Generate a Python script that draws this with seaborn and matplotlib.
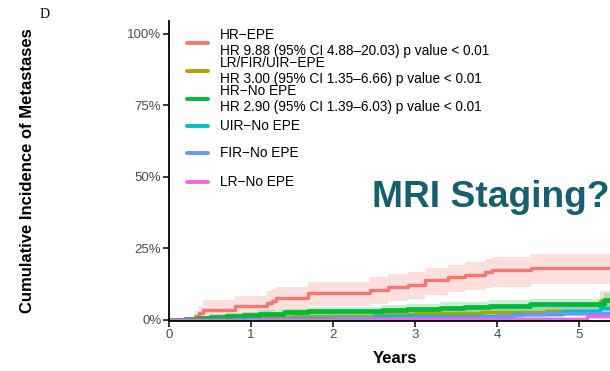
import numpy as np
import pandas as pd
import matplotlib
matplotlib.use("Agg")
import matplotlib.pyplot as plt
from matplotlib.lines import Line2D
from matplotlib.ticker import PercentFormatter
import seaborn as sns

# ---- data: cumulative incidence of metastases (%) by risk group ----
groups = ["HR\u2212EPE", "LR/FIR/UIR\u2212EPE", "HR\u2212No EPE",
          "UIR\u2212No EPE", "FIR\u2212No EPE", "LR\u2212No EPE"]
hr_notes = ["HR 9.88 (95% CI 4.88\u201320.03) p value < 0.01",
            "HR 3.00 (95% CI 1.35\u20136.66) p value < 0.01",
            "HR 2.90 (95% CI 1.39\u20136.03) p value < 0.01",
            None, None, None]
colors = ["#F8766D", "#B79F00", "#00BA38", "#00BFC4", "#619CFF", "#F564E3"]

hr_epe_t = [0, 0.32, 0.37, 0.41, 0.80, 1.19, 1.25, 1.31, 1.69, 2.45, 2.67, 2.92, 3.12, 3.40, 3.61, 3.85, 3.94, 4.42]
hr_epe_y = [0, 1.2, 2.4, 3.3, 4.7, 5.8, 6.7, 7.6, 9.3, 10.3, 11.4, 12.2, 14.0, 14.9, 15.7, 16.7, 17.5, 18.2]
hr_epe_lo = [0, 0.1, 0.5, 1.0, 1.8, 2.5, 3.0, 3.4, 4.8, 5.6, 6.5, 7.3, 8.6, 9.6, 10.3, 11.0, 11.6, 12.4]
hr_epe_hi = [0, 3.0, 5.0, 7.0, 8.5, 10.0, 10.8, 11.4, 13.2, 14.9, 16.0, 16.8, 18.2, 19.2, 20.2, 21.2, 22.0, 23.1]

lr_epe_t = [0, 0.6, 1.0, 1.5, 2.0, 2.5, 3.0, 3.8, 4.6, 5.25]
lr_epe_y = [0, 0.5, 0.9, 1.2, 1.5, 2.1, 2.3, 2.7, 3.2, 6.5]
lr_epe_lo = [0, 0.0, 0.1, 0.2, 0.4, 0.6, 0.8, 1.0, 1.3, 3.0]
lr_epe_hi = [0, 1.4, 2.0, 2.5, 3.0, 3.8, 4.2, 4.8, 5.5, 10.0]

hr_no_t = [0, 0.2, 0.35, 0.5, 0.7, 0.9, 1.1, 1.4, 1.7, 2.6, 2.9, 3.3, 3.6, 3.9, 4.4, 5.3]
hr_no_y = [0, 0.3, 0.7, 1.1, 1.5, 1.8, 2.1, 2.6, 3.1, 3.5, 3.9, 4.3, 4.6, 4.9, 5.4, 7.0]
hr_no_lo = [0, 0.0, 0.2, 0.4, 0.6, 0.8, 1.0, 1.3, 1.7, 2.0, 2.3, 2.6, 2.8, 3.1, 3.5, 4.5]
hr_no_hi = [0, 0.8, 1.4, 2.0, 2.5, 2.9, 3.3, 3.9, 4.6, 5.1, 5.6, 6.1, 6.4, 6.8, 7.4, 9.5]

uir_no_t = [0, 0.8, 1.5, 2.5, 3.3, 4.2, 4.8, 5.25]
uir_no_y = [0, 0.4, 0.8, 1.2, 1.5, 2.2, 3.0, 4.2]
uir_no_lo = [0, 0.0, 0.1, 0.3, 0.4, 0.8, 1.2, 1.8]
uir_no_hi = [0, 1.6, 2.6, 3.6, 4.4, 5.4, 6.0, 7.5]

fir_no_t = [0, 1.0, 2.0, 3.0, 4.0, 4.3, 4.6]
fir_no_y = [0, 0.3, 0.7, 1.1, 1.7, 2.2, 2.5]
fir_no_lo = [0, 0.0, 0.1, 0.3, 0.7, 1.0, 1.2]
fir_no_hi = [0, 0.9, 1.5, 2.1, 2.9, 3.5, 3.9]

lr_no_t = [0, 2.5, 5.1]
lr_no_y = [0, 0.4, 1.2]
lr_no_lo = [0, 0.0, 0.2]
lr_no_hi = [0, 1.1, 2.6]

follow_up_end = 5.6

series = [
    (hr_epe_t, hr_epe_y, hr_epe_lo, hr_epe_hi),
    (lr_epe_t, lr_epe_y, lr_epe_lo, lr_epe_hi),
    (hr_no_t, hr_no_y, hr_no_lo, hr_no_hi),
    (uir_no_t, uir_no_y, uir_no_lo, uir_no_hi),
    (fir_no_t, fir_no_y, fir_no_lo, fir_no_hi),
    (lr_no_t, lr_no_y, lr_no_lo, lr_no_hi),
]

# long table, each curve carried to the end of follow-up
rows = []
for name, (t, y, lo, hi) in zip(groups, series):
    tt = list(t) + [follow_up_end]
    for k, ti in enumerate(tt):
        j = min(k, len(y) - 1)
        rows.append({"Years": ti, "incidence": y[j], "lo": lo[j], "hi": hi[j], "group": name})
df = pd.DataFrame(rows)

# ---- figure ----
sns.set_theme(style="ticks")
plt.rcParams["font.family"] = ["Liberation Sans", "DejaVu Sans"]

W, H = 610, 371
fig = plt.figure(figsize=(W / 100, H / 100), dpi=100)
px_per_year = 82.0
ax_left, ax_right, ax_top, ax_bottom = 169, 621, 20.7, 321
ax = fig.add_axes([ax_left / W, 1 - ax_bottom / H, (ax_right - ax_left) / W, (ax_bottom - ax_top) / H])

palette = dict(zip(groups, colors))

# confidence bands
for name in groups:
    d = df[df["group"] == name]
    ax.fill_between(d["Years"], d["lo"], d["hi"], step="post",
                    color=palette[name], alpha=0.22, linewidth=0)

# step curves
sns.lineplot(data=df, x="Years", y="incidence", hue="group", hue_order=groups,
             palette=palette, estimator=None, sort=False, drawstyle="steps-post",
             linewidth=2.4, legend=False, ax=ax)
for ln, name in zip(ax.get_lines(), groups):
    if name == "HR\u2212No EPE":
        ln.set_linewidth(3.4)

ax.set_xlim(0, (ax_right - ax_left) / px_per_year)
ax.set_ylim(-0.4, (ax_bottom - ax_top) / 2.86 - 0.4)
ax.set_xticks([0, 1, 2, 3, 4, 5])
ax.set_yticks([0, 25, 50, 75, 100])
ax.yaxis.set_major_formatter(PercentFormatter(100, decimals=0))

for side in ["top", "right"]:
    ax.spines[side].set_visible(False)
for side in ["left", "bottom"]:
    ax.spines[side].set_linewidth(1.3)
    ax.spines[side].set_color("black")
ax.tick_params(axis="both", length=4, width=1.1, color="black",
               labelcolor="#4d4d4d", labelsize=9.5, pad=1.5)

ax.set_xlabel("Years", fontsize=12, fontweight="bold", color="black")
ax.set_ylabel("Cumulative Incidence of Metastases", fontsize=12, fontweight="bold", color="black")
ax.xaxis.set_label_coords(0.5, -0.10)
ax.yaxis.set_label_coords((35 - ax_left) / (ax_right - ax_left), 0.5)

# legend
key_y = [42.7, 70.7, 99.0, 126.0, 153.3, 181.7]
for name, note, col, ky in zip(groups, hr_notes, colors, key_y):
    fy = 1 - ky / H
    fig.add_artist(Line2D([186.7 / W, 208.3 / W], [fy, fy], color=col,
                          linewidth=2.8, transform=fig.transFigure))
    label = name if note is None else name + "\n" + note
    fig.text(220 / W, fy, label, fontsize=9.8, color="black", va="center",
             ha="left", linespacing=1.15)

fig.text(40 / W, 1 - 8 / H, "D", fontsize=10, family="Liberation Serif",
         va="top", ha="left", color="black")
fig.text(372 / W, 1 - 206.7 / H, "MRI Staging?", fontsize=26.7, fontweight="bold",
         color="#14606F", va="baseline", ha="left")

fig.savefig("out.png", dpi=100)
